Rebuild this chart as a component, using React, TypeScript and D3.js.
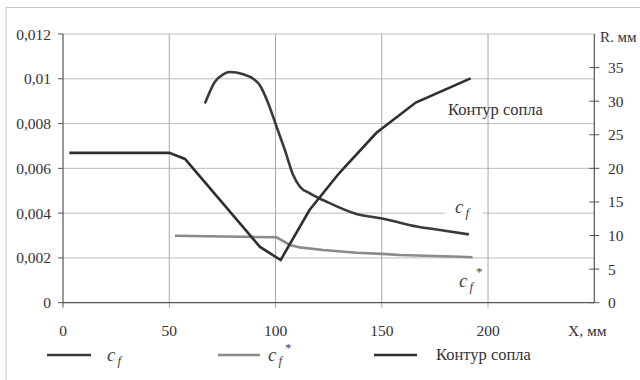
import React from 'react';
import * as d3 from 'd3';

// Friction coefficient c_f along the nozzle, X mm
const cfX = [66.8, 71.5, 75.4, 78.5, 84.8, 89.5, 92.7, 96.6, 100.5, 104.4, 108.3, 111.5, 116.2, 124, 138.1, 150.7, 167.1, 177.3, 191];
const cfY = [0.0089, 0.00987, 0.0102, 0.0103, 0.0102, 0.01, 0.0097, 0.0089, 0.00786, 0.00682, 0.0057, 0.00518, 0.00488, 0.00451, 0.00396, 0.00375, 0.00339, 0.00325, 0.00305];

// c_f* series
const cfsX = [52.7, 100.5, 106.8, 111.5, 122.4, 138.1, 152.3, 158.5, 186.7, 192.7];
const cfsY = [0.00299, 0.00292, 0.00258, 0.00247, 0.00235, 0.00223, 0.00217, 0.00213, 0.00205, 0.00203];

// Nozzle contour, R mm
const conX = [3, 50, 57.4, 92.7, 102.4, 116, 130, 147.5, 166, 191.8];
const conR = [22.3, 22.3, 21.4, 8.3, 6.35, 13.8, 19.3, 25.3, 29.8, 33.4];

const xTicks = [0, 50, 100, 150, 200];
const yTicks = [0, 0.002, 0.004, 0.006, 0.008, 0.01, 0.012];
const rTicks = [0, 5, 10, 15, 20, 25, 30, 35];

const FONT = '"Liberation Serif", "DejaVu Serif", "Times New Roman", serif';

const App = () => {
  const width = 640;
  const height = 380;
  const left = 63, right = 594.3, top = 34, bottom = 302.7;

  const x = d3.scaleLinear().domain([0, 250]).range([left, right]);
  const y = d3.scaleLinear().domain([0, 0.012]).range([bottom, top]);
  const r = d3.scaleLinear().domain([0, 40]).range([bottom, top]);

  const cfPath = d3.line<number>().x(d => x(d)).y((d, i) => y(cfY[i])).curve(d3.curveMonotoneX)(cfX);
  const cfsPath = d3.line<number>().x(d => x(d)).y((d, i) => y(cfsY[i]))(cfsX);
  const conPath = d3.line<number>().x(d => x(d)).y((d, i) => r(conR[i]))(conX);

  const fmt = (v: number) => (v === 0 ? '0' : String(v).replace('.', ','));

  return (
    <svg width={width} height={height} style={{ position: 'absolute', left: 0, top: 0, fontFamily: FONT }}>
      <rect x={0} y={0} width={width} height={height} fill="#fff" />
      {/* outer frame */}
      <rect x={6} y={7.5} width={700} height={500} fill="none" stroke="#c8c8c8" strokeWidth={1} />

      {/* grid */}
      {yTicks.filter(t => t > 0).map(t => (
        <line key={'gy' + t} x1={left} x2={right} y1={y(t)} y2={y(t)} stroke="#bdbdbd" strokeWidth={1} />
      ))}
      {xTicks.filter(t => t > 0).map(t => (
        <line key={'gx' + t} x1={x(t)} x2={x(t)} y1={top} y2={bottom + 5} stroke="#a8a8a8" strokeWidth={1} />
      ))}

      {/* axes */}
      <line x1={left} x2={left} y1={top} y2={bottom} stroke="#555" strokeWidth={1.2} />
      <line x1={left} x2={right} y1={bottom} y2={bottom} stroke="#555" strokeWidth={1.2} />
      <line x1={right} x2={right} y1={top} y2={bottom} stroke="#555" strokeWidth={1.2} />
      <line x1={left} x2={left} y1={bottom} y2={bottom + 5} stroke="#555" />

      {yTicks.map(t => (
        <g key={'ly' + t}>
          <line x1={left - 5} x2={left} y1={y(t)} y2={y(t)} stroke="#555" />
          <text x={51} y={y(t) + 5.5} textAnchor="end" fontSize={15.5} fill="#333">{fmt(t)}</text>
        </g>
      ))}
      {rTicks.map(t => (
        <g key={'ry' + t}>
          <line x1={right - 5} x2={right + 5} y1={r(t)} y2={r(t)} stroke="#555" />
          <text x={608} y={r(t) + 5.5} fontSize={15.5} fill="#333">{t}</text>
        </g>
      ))}
      <text x={600} y={42} fontSize={15} fill="#333">R. мм</text>

      {xTicks.map(t => (
        <text key={'lx' + t} x={x(t)} y={336} textAnchor="middle" fontSize={15.5} fill="#333">{t}</text>
      ))}
      <text x={568} y={336} fontSize={15.5} fill="#333">X, мм</text>

      {/* series */}
      <path d={cfsPath || ''} fill="none" stroke="#8a8a8a" strokeWidth={2.6} />
      <path d={cfPath || ''} fill="none" stroke="#3a3a3a" strokeWidth={2.6} />
      <path d={conPath || ''} fill="none" stroke="#2e2e2e" strokeWidth={2.6} />

      {/* annotations */}
      <text x={448} y={115} fontSize={16.5} fill="#333">Контур сопла</text>
      <rect x={445} y={203} width={38} height={18} fill="#fff" />
      <text x={455} y={213} fontSize={19} fontStyle="italic" fill="#444">c<tspan fontSize={13} dx={2} dy={4}>f</tspan></text>
      <text x={459} y={287} fontSize={19} fontStyle="italic" fill="#444">c<tspan fontSize={13} dx={2} dy={4}>f</tspan></text>
      <text x={476} y={276} fontSize={13} fill="#444">*</text>

      {/* legend */}
      <line x1={47} x2={91} y1={355} y2={355} stroke="#3a3a3a" strokeWidth={2.6} />
      <text x={107} y={361} fontSize={19} fontStyle="italic" fill="#444">c<tspan fontSize={13} dx={2} dy={4}>f</tspan></text>
      <line x1={218} x2={260} y1={355} y2={355} stroke="#8a8a8a" strokeWidth={2.6} />
      <text x={268} y={361} fontSize={19} fontStyle="italic" fill="#444">c<tspan fontSize={13} dx={2} dy={4}>f</tspan></text>
      <text x={285} y={352} fontSize={13} fill="#444">*</text>
      <line x1={374} x2={417} y1={355} y2={355} stroke="#2e2e2e" strokeWidth={2.6} />
      <text x={436} y={360} fontSize={16.5} fill="#333">Контур сопла</text>
    </svg>
  );
};

export default App;
